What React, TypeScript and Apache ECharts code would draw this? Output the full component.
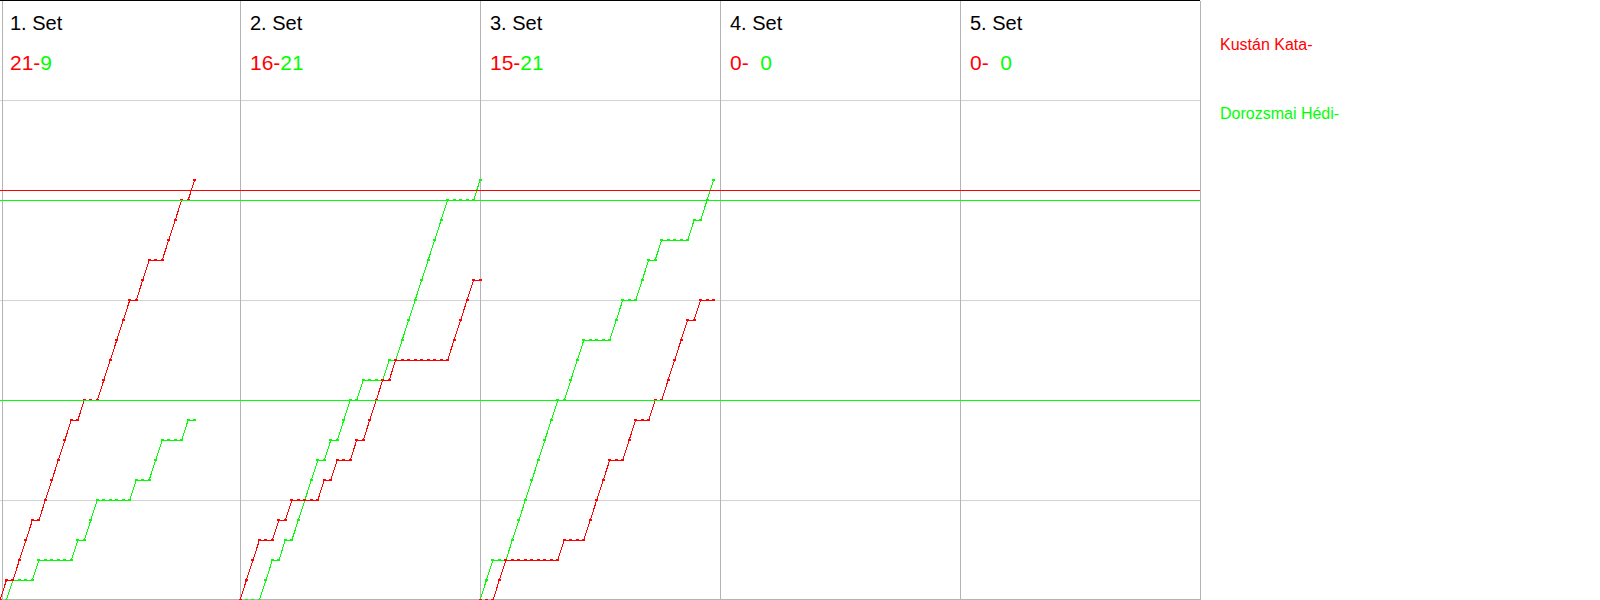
import React, { useEffect, useRef } from 'react';
import * as echarts from 'echarts';

// ---- data ----
const setLabels = ['1. Set', '2. Set', '3. Set', '4. Set', '5. Set'];
const playerRed = 'Kustán Kata-';
const playerGreen = 'Dorozsmai Hédi-';
// rally winners, in order: R = Kustán Kata (red), G = Dorozsmai Hédi (green)
const set1Rallies = ['R','G','R','R','R','G','R','R','R','R','R','G','R','G','G','R','R','R','R','R','G','R','R','G','G','R','R','R','G','R'];
const set2Rallies = ['R','R','R','G','G','R','G','R','G','G','G','G','R','G','R','G','G','R','G','R','R','R','G','R','G','G','G','G','G','G','G','G','R','R','R','R','G'];
const set3Rallies = ['G','G','R','R','G','G','G','G','G','G','G','G','R','G','G','G','R','R','R','R','G','G','R','R','G','G','R','G','R','R','R','R','G','R','G','G'];
const set4Rallies: string[] = [];
const set5Rallies: string[] = [];
const redScores = ['21', '16', '15', '0', '0'];
const greenScores = ['9', '21', '21', '0', '0'];
const scoreTicks = [0, 5, 10, 15, 20, 25, 30];
const redLineScores = [20.5];
const greenLineScores = [20, 10];

const RED = '#ff0000';
const GREEN = '#00ff00';
const FONT = '"Liberation Sans", Arial, sans-serif';
const RALLIES_PER_COLUMN = 37;

const allSets = [set1Rallies, set2Rallies, set3Rallies, set4Rallies, set5Rallies];

function progression(rallies: string[], who: string, setIndex: number) {
  const base = setIndex * RALLIES_PER_COLUMN;
  let s = 0;
  const out: number[][] = [[base, 0]];
  rallies.forEach((w, i) => {
    if (w === who) s += 1;
    out.push([base + i + 1, s]);
  });
  return out;
}

function markLineSeries(values: number[], color: string) {
  return {
    type: 'line',
    data: [],
    silent: true,
    z: 5,
    itemStyle: { color },
    lineStyle: { color },
    markLine: {
      silent: true,
      symbol: 'none',
      z: 5,
      label: { show: false },
      lineStyle: { color, width: 1, type: 'solid', opacity: 1 },
      emphasis: { disabled: true },
      data: values.map((v) => ({ yAxis: v })),
    },
  };
}

export default function App() {
  const ref = useRef<HTMLDivElement>(null);
  useEffect(() => {
    if (!ref.current) return;
    const chart = echarts.init(ref.current, undefined, { renderer: 'svg' });
    const series: any[] = [];
    allSets.forEach((rallies, si) => {
      if (!rallies.length) return;
      (['R', 'G'] as const).forEach((who) => {
        const color = who === 'R' ? RED : GREEN;
        series.push({
          type: 'line',
          name: (who === 'R' ? playerRed : playerGreen) + si,
          data: progression(rallies, who, si),
          showSymbol: true,
          symbol: 'rect',
          symbolSize: [3, 2],
          lineStyle: { color, width: 1 },
          itemStyle: { color },
          silent: true,
          z: who === 'R' ? 3 : 2,
        });
      });
    });
    series.push(markLineSeries(greenLineScores, GREEN));
    series.push(markLineSeries(redLineScores, RED));

    const graphics: any[] = [];
    setLabels.forEach((lbl, i) => {
      graphics.push({
        type: 'text',
        x: 240 * i + 10,
        y: 23,
        silent: true,
        style: { text: lbl, font: `20px ${FONT}`, fill: '#000', align: 'left', verticalAlign: 'middle' },
      });
      graphics.push({
        type: 'text',
        x: 240 * i + 10,
        y: 62.5,
        silent: true,
        style: {
          text: greenScores[i] === '0'
            ? `{r|${redScores[i]}-}{s|  }{g|${greenScores[i]}}`
            : `{r|${redScores[i]}-}{g|${greenScores[i]}}`,
          font: `21px ${FONT}`,
          align: 'left',
          verticalAlign: 'middle',
          rich: {
            r: { fill: RED, fontSize: 21, fontFamily: FONT },
            s: { fill: RED, fontSize: 21, fontFamily: FONT },
            g: { fill: GREEN, fontSize: 21, fontFamily: FONT },
          },
        },
      });
    });
    graphics.push({
      type: 'text', x: 1220, y: 44.5, silent: true,
      style: { text: playerRed, font: `16px ${FONT}`, fill: RED, align: 'left', verticalAlign: 'middle' },
    });
    graphics.push({
      type: 'text', x: 1220, y: 113.8, silent: true,
      style: { text: playerGreen, font: `16px ${FONT}`, fill: GREEN, align: 'left', verticalAlign: 'middle' },
    });
    graphics.push({
      type: 'line', silent: true, z: 100,
      shape: { x1: 0, y1: 0.5, x2: 1200, y2: 0.5 },
      style: { stroke: '#000', lineWidth: 1 },
    });
    graphics.push({
      type: 'line', silent: true, z: 1,
      shape: { x1: 0, y1: 599.5, x2: 1200.5, y2: 599.5 },
      style: { stroke: '#b4b4b4', lineWidth: 1 },
    });

    chart.setOption({
      animation: false,
      backgroundColor: '#fff',
      grid: { left: 0, top: 0.5, width: 1200, height: 600, containLabel: false },
      xAxis: {
        type: 'value',
        min: 0,
        max: RALLIES_PER_COLUMN * 5,
        interval: RALLIES_PER_COLUMN,
        axisLine: { show: false },
        axisTick: { show: false },
        axisLabel: { show: false },
        splitLine: { show: true, showMinLine: false, lineStyle: { color: '#b4b4b4', width: 1 } },
      },
      yAxis: {
        type: 'value',
        min: scoreTicks[0],
        max: scoreTicks[scoreTicks.length - 1],
        interval: scoreTicks[1] - scoreTicks[0],
        offset: -2,
        axisLine: { show: true, lineStyle: { color: '#b4b4b4' } },
        axisTick: { show: false },
        axisLabel: { show: false },
        splitLine: { show: true, lineStyle: { color: '#d3d3d3', width: 1 } },
      },
      series,
      graphic: graphics,
    });
    const svg = ref.current.querySelector('svg');
    if (svg) svg.setAttribute('shape-rendering', 'crispEdges');
    return () => chart.dispose();
  }, []);
  return <div ref={ref} style={{ position: 'absolute', left: 0, top: 0, width: 1600, height: 600 }} />;
}
